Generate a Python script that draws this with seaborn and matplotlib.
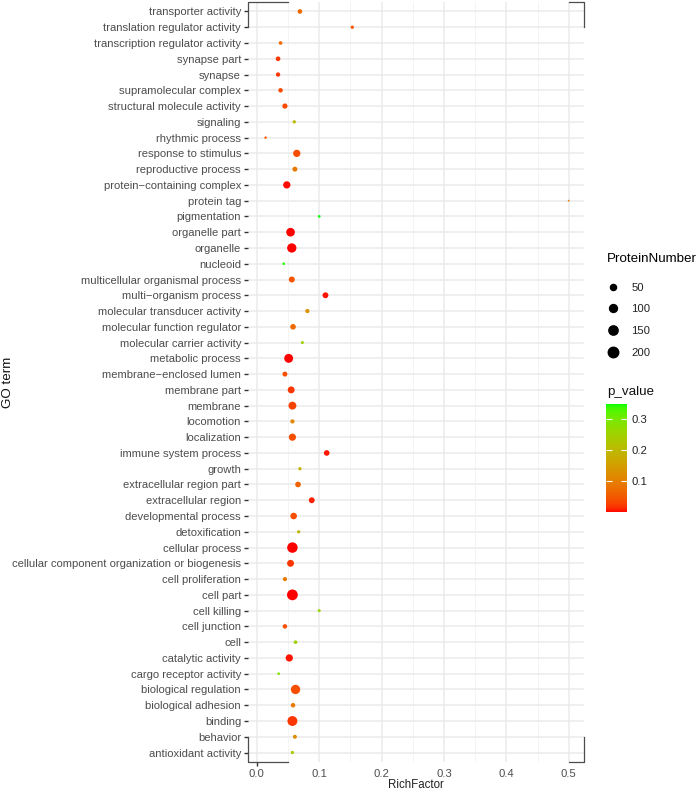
import numpy as np
import pandas as pd
import matplotlib
matplotlib.use("Agg")
import matplotlib.pyplot as plt
from matplotlib.colors import ListedColormap, Normalize
from matplotlib.lines import Line2D
import seaborn as sns

# GO terms, bottom (index 0) to top, as ggplot sorted them
terms = [
    "antioxidant activity", "behavior", "binding", "biological adhesion",
    "biological regulation", "cargo receptor activity", "catalytic activity", "cell",
    "cell junction", "cell killing", "cell part", "cell proliferation",
    "cellular component organization or biogenesis", "cellular process",
    "detoxification", "developmental process", "extracellular region",
    "extracellular region part", "growth", "immune system process", "localization",
    "locomotion", "membrane", "membrane part", "membrane\u2212enclosed lumen",
    "metabolic process", "molecular carrier activity", "molecular function regulator",
    "molecular transducer activity", "multi\u2212organism process",
    "multicellular organismal process", "nucleoid", "organelle", "organelle part",
    "pigmentation", "protein tag", "protein\u2212containing complex",
    "reproductive process", "response to stimulus", "rhythmic process", "signaling",
    "structural molecule activity", "supramolecular complex", "synapse",
    "synapse part", "transcription regulator activity",
    "translation regulator activity", "transporter activity",
]
rich_factor = [
    0.057, 0.061, 0.057, 0.058, 0.062, 0.035, 0.052, 0.062,
    0.045, 0.100, 0.057, 0.045, 0.054, 0.057, 0.067, 0.059,
    0.088, 0.066, 0.069, 0.112, 0.057, 0.057, 0.057, 0.055, 0.045,
    0.051, 0.073, 0.058, 0.081, 0.110, 0.056, 0.043, 0.056, 0.054,
    0.100, 0.500, 0.048, 0.061, 0.064, 0.014, 0.060,
    0.045, 0.038, 0.034, 0.034, 0.038, 0.153, 0.069,
]
protein_number = [
    7, 13, 175, 20, 150, 3, 80, 10,
    20, 5, 215, 16, 70, 200, 7, 62,
    45, 40, 7, 40, 78, 16, 100, 70, 27,
    135, 5, 40, 16, 45, 47, 3, 150, 125,
    3, 1, 80, 27, 80, 2, 7,
    32, 20, 18, 22, 10, 7, 22,
]
p_value = [
    0.23, 0.12, 0.02, 0.09, 0.04, 0.29, 0.005, 0.25,
    0.04, 0.26, 0.0005, 0.09, 0.02, 0.001, 0.20, 0.04,
    0.01, 0.06, 0.19, 0.005, 0.04, 0.11, 0.03, 0.02, 0.04,
    0.001, 0.25, 0.07, 0.13, 0.005, 0.045, 0.345, 0.001, 0.001,
    0.35, 0.10, 0.002, 0.09, 0.04, 0.05, 0.20,
    0.035, 0.035, 0.02, 0.02, 0.07, 0.05, 0.07,
]
size_breaks = [50, 100, 150, 200]
p_breaks = [0.1, 0.2, 0.3]

df = pd.DataFrame({"term": terms, "RichFactor": rich_factor,
                   "ProteinNumber": protein_number, "p_value": p_value})


# red -> green gradient interpolated in Lab, like scale_color_gradient
def srgb_to_lab(rgb):
    c = np.asarray(rgb, float)
    lin = np.where(c <= 0.04045, c / 12.92, ((c + 0.055) / 1.055) ** 2.4)
    M = np.array([[0.4124, 0.3576, 0.1805], [0.2126, 0.7152, 0.0722], [0.0193, 0.1192, 0.9505]])
    xyz = M @ lin / np.array([0.95047, 1.0, 1.08883])
    d = 6 / 29
    f = np.where(xyz > d ** 3, np.cbrt(xyz), xyz / (3 * d * d) + 4 / 29)
    return np.array([116 * f[1] - 16, 500 * (f[0] - f[1]), 200 * (f[1] - f[2])])


def lab_to_srgb(lab):
    L, a, b = lab
    fy = (L + 16) / 116
    fx = fy + a / 500
    fz = fy - b / 200
    d = 6 / 29
    f = np.array([fx, fy, fz])
    xyz = np.where(f > d, f ** 3, 3 * d * d * (f - 4 / 29)) * np.array([0.95047, 1.0, 1.08883])
    Minv = np.array([[3.2406, -1.5372, -0.4986], [-0.9689, 1.8758, 0.0415], [0.0557, -0.2040, 1.0570]])
    lin = np.clip(Minv @ xyz, 0, 1)
    c = np.where(lin <= 0.0031308, 12.92 * lin, 1.055 * lin ** (1 / 2.4) - 0.055)
    return np.clip(c, 0, 1)


lab_lo = srgb_to_lab([1, 0, 0])
lab_hi = srgb_to_lab([0, 1, 0])
cmap = ListedColormap([lab_to_srgb(lab_lo + (lab_hi - lab_lo) * t) for t in np.linspace(0, 1, 256)])
norm = Normalize(min(p_value), max(p_value))

# ggplot-like area scale: diameter = 1 + 5*sqrt(rescaled value)
DPI = 100
vmin, vmax = min(protein_number), max(protein_number)


def diam_pt(v):
    px = 1.8 * (1 + 5 * np.sqrt((v - vmin) / (vmax - vmin)))
    return px * 72 / DPI


size_map = {v: diam_pt(v) ** 2 for v in set(protein_number)}

fig = plt.figure(figsize=(6.99, 7.9), dpi=DPI)
plt.rcParams["font.family"] = ["Liberation Sans", "DejaVu Sans"]
ax = fig.add_axes([248 / 699, 1 - 762 / 790, 336 / 699, 760 / 790])

sns.scatterplot(data=df, x="RichFactor", y="term", hue="p_value", palette=cmap,
                hue_norm=norm, size="ProteinNumber", sizes=size_map,
                linewidth=0, legend=False, ax=ax, zorder=3)

x0, x1 = -0.0142, 0.5245
ax.set_xlim(x0, x1)
ax.set_ylim(-0.6, len(terms) - 0.4)
ax.set_xticks([0, 0.1, 0.2, 0.3, 0.4, 0.5])
ax.set_xticklabels(["0.0", "0.1", "0.2", "0.3", "0.4", "0.5"])
ax.set_xticks(np.arange(0.05, 0.5, 0.1), minor=True)
ax.grid(True, which="major", color="#EBEBEB", linewidth=1.1, zorder=0)
ax.grid(True, which="minor", axis="x", color="#F3F3F3", linewidth=0.6, zorder=0)
ax.set_axisbelow(True)
for s in ax.spines.values():
    s.set_visible(False)

ax.tick_params(axis="y", length=3, width=1, color="#333333", labelsize=8.1,
               labelcolor="#4D4D4D", pad=2)
ax.tick_params(axis="x", length=3, width=1, color="#333333", labelsize=8.1,
               labelcolor="#4D4D4D", pad=2)
ax.tick_params(axis="x", which="minor", length=0)
for t in ax.xaxis.get_major_ticks()[1:]:
    t.tick1line.set_visible(False)

# capped bracket-style axis lines
top, bot = len(terms) - 0.4, -0.6
lc = dict(color="#4D4D4D", linewidth=0.9, clip_on=False, zorder=5)
ax.plot([x0, x0, 0.05], [46, top, top], **lc)
ax.plot([x0, x0, 0.05], [1, bot, bot], **lc)
ax.plot([0.5, x1, x1], [top, top, 46], **lc)
ax.plot([0.5, x1, x1], [bot, bot, 1], **lc)

ax.set_xlabel("RichFactor", fontsize=8.3, color="#222222")
ax.xaxis.set_label_coords(0.5, -(785 - 762) / 760)
ax.xaxis.label.set_va("center")
ax.set_ylabel("GO term", fontsize=9.6, color="#111111")
ax.yaxis.set_label_coords(-(248 - 8) / 336, 0.5)
ax.yaxis.label.set_va("center")

# size legend
handles = [Line2D([], [], marker="o", linestyle="", color="black",
                  markersize=diam_pt(v)) for v in size_breaks]
leg = fig.legend(handles, [str(v) for v in size_breaks], title="ProteinNumber",
                 loc="upper left", bbox_to_anchor=(602 / 699, 1 - 248 / 790),
                 frameon=False, fontsize=8.1, title_fontsize=9.6,
                 labelspacing=1.05, handletextpad=1.0, handlelength=1.2,
                 alignment="left", borderaxespad=0, borderpad=0.4)
leg._legend_box.sep = 13
for t in leg.get_texts():
    t.set_color("#222222")

# colour bar
cax = fig.add_axes([606 / 699, 1 - 512 / 790, 21 / 699, 108 / 790])
cb = fig.colorbar(plt.cm.ScalarMappable(norm=norm, cmap=cmap), cax=cax)
cb.outline.set_visible(False)
cb.set_ticks(p_breaks)
cb.set_ticklabels([str(v) for v in p_breaks])
cax.tick_params(left=True, right=True, direction="in", length=4, width=0.8,
                color="white", labelsize=8.1, labelcolor="#222222", pad=3)
fig.text(607 / 699, 1 - 392 / 790, "p_value", fontsize=9.6, color="#111111",
         va="center", ha="left")

fig.savefig("out.png", dpi=DPI)
